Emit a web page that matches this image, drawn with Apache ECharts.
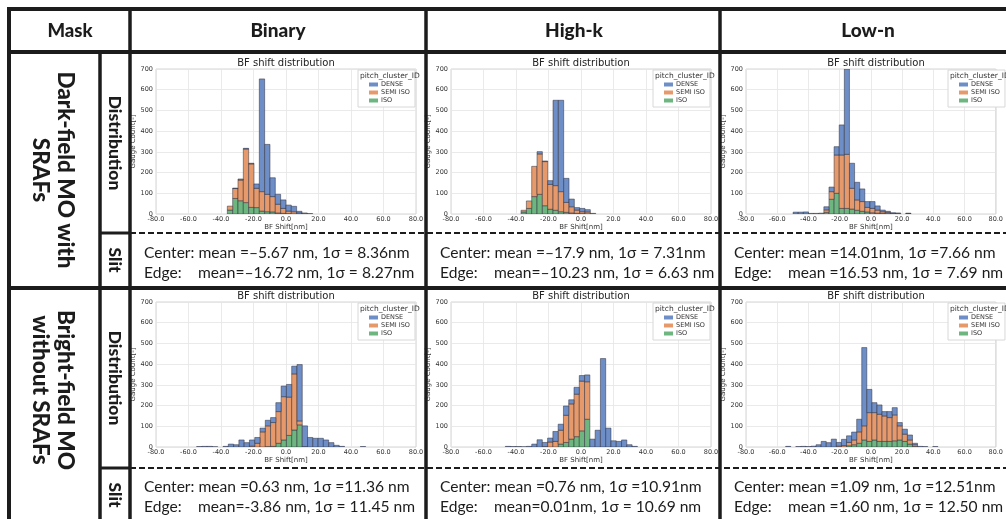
<!DOCTYPE html>
<html>
<head>
<meta charset="utf-8">
<script src="https://cdn.jsdelivr.net/npm/echarts@6/dist/echarts.min.js"></script>
<style>
  html, body { margin: 0; padding: 0; background: #fff; }
  #main { width: 1006px; height: 519px; }
</style>
</head>
<body>
<div id="main"></div>
<script>
// table headers
const columns = ['Binary', 'High-k', 'Low-n'];
const rowLabels = [['Dark-field MO with', 'SRAFs'], ['Bright-field MO', 'without SRAFs']];
const layers = ['DENSE', 'SEMI ISO', 'ISO'];

// histogram bins (nm): DF Binary, DF High-k, DF Low-n, BF Binary, BF High-k, BF Low-n
const binStart = [-36.1, -36.9, -49.8, -55.0, -46.55, -54.6];
const binWidth = [3.28, 3.28, 3.28, 3.25, 3.25, 3.25];

// counts per bin
const dfBinaryDense = [0, 2, 5, 3, 3, 21, 544, 241, 91, 48, 41, 29, 26, 8, 4, 2];
const dfBinarySemi  = [19, 48, 100, 259, 210, 93, 94, 84, 74, 42, 24, 12, 10, 5, 1, 0];
const dfBinaryIso   = [19, 75, 64, 55, 32, 31, 14, 11, 10, 5, 3, 2, 1, 0, 0, 0];

const dfHighkDense = [0, 0, 0, 11, 3, 18, 412, 441, 116, 37, 12, 16, 11, 3];
const dfHighkSemi  = [8, 36, 146, 195, 213, 120, 119, 97, 48, 30, 16, 9, 9, 0];
const dfHighkIso   = [10, 27, 84, 95, 40, 23, 18, 11, 8, 5, 3, 2, 1, 0];

const dfLownDense = [9, 9, 10, 3, 3, 4, 15, 22, 40, 145, 412, 121, 85, 61, 28, 33, 20, 8, 5, 3, 3, 0, 2];
const dfLownSemi  = [0, 0, 0, 0, 0, 0, 12, 37, 185, 258, 261, 100, 50, 47, 22, 21, 15, 8, 6, 3, 2, 0, 2];
const dfLownIso   = [0, 0, 0, 0, 0, 0, 8, 71, 100, 27, 27, 24, 18, 13, 10, 6, 4, 3, 2, 0, 0, 0, 0];

const bfBinaryDense = [2, 3, 3, 1, 0, 3, 14, 11, 34, 21, 30, 28, 18, 27, 24, 43, 51, 61, 37, 272, 100, 46, 42, 42, 34, 21, 8, 3, 0, 0, 0, 2];
const bfBinarySemi  = [0, 0, 0, 0, 0, 0, 0, 0, 0, 0, 4, 18, 73, 100, 115, 153, 209, 185, 271, 19, 0, 0, 0, 0, 0, 0, 0, 0, 0, 0, 0, 0];
const bfBinaryIso   = [0, 0, 0, 0, 0, 0, 0, 0, 0, 0, 0, 0, 0, 2, 3, 18, 34, 56, 82, 107, 2, 0, 0, 0, 0, 0, 0, 0, 0, 0, 0, 0];

const bfHighkDense = [3, 2, 2, 1, 3, 14, 35, 20, 19, 48, 29, 45, 20, 33, 27, 33, 38, 81, 427, 91, 30, 27, 34, 11, 3];
const bfHighkSemi  = [0, 0, 0, 0, 0, 0, 0, 2, 24, 27, 67, 131, 170, 205, 240, 181, 0, 0, 0, 0, 0, 0, 0, 0, 0];
const bfHighkIso   = [0, 0, 0, 0, 0, 0, 0, 0, 0, 0, 14, 22, 38, 50, 78, 134, 0, 0, 0, 0, 0, 0, 0, 0, 0];

const bfLownDense = [3, 0, 2, 3, 2, 4, 11, 27, 21, 38, 18, 30, 32, 38, 61, 378, 112, 48, 45, 21, 29, 35, 16, 24, 24, 7, 3, 2, 0, 2];
const bfLownSemi  = [0, 0, 0, 0, 0, 0, 0, 0, 0, 0, 4, 7, 16, 23, 55, 68, 139, 132, 131, 123, 115, 125, 68, 35, 20, 8, 0, 0, 0, 0];
const bfLownIso   = [0, 0, 0, 0, 0, 0, 0, 0, 0, 0, 0, 0, 6, 11, 18, 34, 27, 34, 27, 27, 27, 30, 34, 27, 14, 3, 0, 0, 0, 0];

// slit statistics text
const centerStats = [
  'Center: mean =–5.67 nm, 1σ = 8.36nm', 'Center: mean =–17.9 nm, 1σ = 7.31nm', 'Center: mean =14.01nm, 1σ =7.66 nm',
  'Center: mean =0.63 nm, 1σ =11.36 nm', 'Center: mean =0.76 nm, 1σ =10.91nm', 'Center: mean =1.09 nm, 1σ =12.51nm'
];
const edgeStats = [
  'mean=–16.72 nm, 1σ = 8.27nm', 'mean=–10.23 nm, 1σ = 6.63 nm', 'mean =16.53 nm, 1σ = 7.69 nm',
  'mean=-3.86 nm, 1σ = 11.45 nm', 'mean=0.01nm, 1σ = 10.69 nm', 'mean =1.60 nm, 1σ = 12.50 nm'
];

const panels = [
  [dfBinaryDense, dfBinarySemi, dfBinaryIso],
  [dfHighkDense, dfHighkSemi, dfHighkIso],
  [dfLownDense, dfLownSemi, dfLownIso],
  [bfBinaryDense, bfBinarySemi, bfBinaryIso],
  [bfHighkDense, bfHighkSemi, bfHighkIso],
  [bfLownDense, bfLownSemi, bfLownIso]
];

const colors = ['#6d8ec6', '#e69a6c', '#6db680'];
const ink = '#1c1c1c';
const colLeft = [130, 426, 720];
const plotLeft = [156, 451, 746];
const plotTop = [69, 302];
const plotW = 260, plotH = 145;
const chartFont = 'DejaVu Sans';

function renderBar(params, api) {
  const a = api.coord([api.value(0), api.value(3)]);
  const b = api.coord([api.value(1), api.value(2)]);
  return {
    type: 'rect',
    shape: { x: a[0], y: a[1], width: b[0] - a[0], height: b[1] - a[1] },
    style: { fill: api.visual('color'), stroke: 'rgba(45,45,60,0.85)', lineWidth: 0.6 }
  };
}

const grids = [], xAxes = [], yAxes = [], series = [], legends = [], graphics = [];

panels.forEach(function (layersData, p) {
  const col = p % 3, row = Math.floor(p / 3);
  const left = plotLeft[col], top = plotTop[row];
  grids.push({ left: left, top: top, width: plotW, height: plotH, show: true, borderColor: '#d4d4d4', borderWidth: 1, backgroundColor: '#fff' });
  xAxes.push({
    type: 'value', gridIndex: p, min: -80, max: 80, interval: 20,
    axisLine: { show: false }, axisTick: { show: false },
    axisLabel: { fontSize: 6.5, color: '#333', margin: 2, fontFamily: chartFont, formatter: function (v) { return v.toFixed(1); } },
    splitLine: { lineStyle: { color: '#e4e4e4', width: 0.8 } },
    name: 'BF Shift[nm]', nameLocation: 'middle', nameGap: 9,
    nameTextStyle: { fontSize: 7, color: '#333', fontFamily: chartFont }
  });
  yAxes.push({
    type: 'value', gridIndex: p, min: 0, max: 700, interval: 100,
    axisLine: { show: false }, axisTick: { show: false },
    axisLabel: { fontSize: 6.5, color: '#333', margin: 3, fontFamily: chartFont },
    splitLine: { lineStyle: { color: '#e4e4e4', width: 0.8 } },
    name: 'Gauge Count[-]', nameLocation: 'middle', nameGap: 19, nameRotate: 90,
    nameTextStyle: { fontSize: 7, color: '#333', fontFamily: chartFont }
  });

  // stack ISO at the bottom, then SEMI ISO, then DENSE
  const n = layersData[0].length;
  const base = new Array(n).fill(0);
  [2, 1, 0].forEach(function (l) {
    const data = [];
    for (let k = 0; k < n; k++) {
      const v = layersData[l][k];
      if (v > 0) {
        const x0 = binStart[p] + k * binWidth[p];
        data.push([x0, x0 + binWidth[p], base[k], base[k] + v]);
        base[k] += v;
      }
    }
    series.push({
      type: 'custom', name: layers[l], xAxisIndex: p, yAxisIndex: p,
      itemStyle: { color: colors[l] }, renderItem: renderBar,
      encode: { x: [0, 1], y: [2, 3] }, data: data, clip: true, silent: true
    });
  });

  legends.push({
    data: layers, orient: 'vertical', left: left + 202, top: top + 1,
    icon: 'rect', itemWidth: 9, itemHeight: 4, itemGap: 1,
    padding: [11, 5, 3, 11], borderColor: '#d8d8d8', borderWidth: 1, backgroundColor: '#fff',
    textStyle: { fontSize: 6.5, color: '#333', fontFamily: chartFont, padding: [0, 0, 0, -2] },
    selectedMode: false
  });
  graphics.push({
    type: 'text', x: left + 204, y: top + 3, z: 100,
    style: { text: 'pitch_cluster_ID', fontSize: 7.5, fill: '#333', fontFamily: chartFont }
  });
  graphics.push({
    type: 'text', x: left + plotW / 2, y: top - 6, z: 100,
    style: { text: 'BF shift distribution', fontSize: 10, fill: '#222', fontFamily: chartFont, align: 'center', verticalAlign: 'middle' }
  });
});

// table lines
function line(x1, y1, x2, y2, w, dash) {
  graphics.push({
    type: 'line', z: 120, shape: { x1: x1, y1: y1, x2: x2, y2: y2 },
    style: { stroke: ink, lineWidth: w, lineDash: dash || null }
  });
}
line(9, 9, 1006, 9, 4);
line(9, 7, 9, 519, 4);
line(9, 52, 1006, 52, 4);
line(9, 288, 1006, 288, 4);
line(100, 52, 100, 519, 3.5);
colLeft.forEach(function (x) { line(x, 9, x, 519, 3.5); });
line(100, 233, 130, 233, 3);
line(100, 468, 130, 468, 3);
line(130, 233, 1006, 233, 2, [6, 3]);
line(130, 468, 1006, 468, 2, [6, 3]);

function label(text, x, y, size, rot) {
  graphics.push({
    type: 'text', x: x, y: y, rotation: rot || 0, z: 120,
    style: { text: text, fontSize: size, fontWeight: 900, fill: ink, fontFamily: 'Lato', align: 'center', verticalAlign: 'middle' }
  });
}
label('Mask', 70, 31, 18.5);
columns.forEach(function (c, i) { label(c, colLeft[i] + 148, 31, 19); });
const rowCenter = [170, 390];
rowLabels.forEach(function (pair, r) {
  label(pair[0], 65, rowCenter[r], 22.5, -Math.PI / 2);
  label(pair[1], 40, rowCenter[r], 22.5, -Math.PI / 2);
});
label('Distribution', 115, 143, 17.5, -Math.PI / 2);
label('Slit', 115, 260, 17.5, -Math.PI / 2);
label('Distribution', 115, 378, 17.5, -Math.PI / 2);
label('Slit', 115, 495, 17.5, -Math.PI / 2);

const statY = [[253, 273], [487, 507]];
centerStats.forEach(function (t, p) {
  const col = p % 3, row = Math.floor(p / 3);
  const x = colLeft[col] + 14;
  const style = { fontSize: 15.6, fill: ink, fontFamily: 'Lato', verticalAlign: 'middle' };
  graphics.push({ type: 'text', x: x, y: statY[row][0], z: 120, style: Object.assign({ text: t }, style) });
  graphics.push({ type: 'text', x: x, y: statY[row][1], z: 120, style: Object.assign({ text: 'Edge:' }, style) });
  graphics.push({ type: 'text', x: x + 54, y: statY[row][1], z: 120, style: Object.assign({ text: edgeStats[p] }, style) });
});

const chart = echarts.init(document.getElementById('main'));
chart.setOption({
  animation: false,
  backgroundColor: '#fff',
  grid: grids,
  xAxis: xAxes,
  yAxis: yAxes,
  legend: legends,
  series: series,
  graphic: graphics
});
</script>
</body>
</html>
